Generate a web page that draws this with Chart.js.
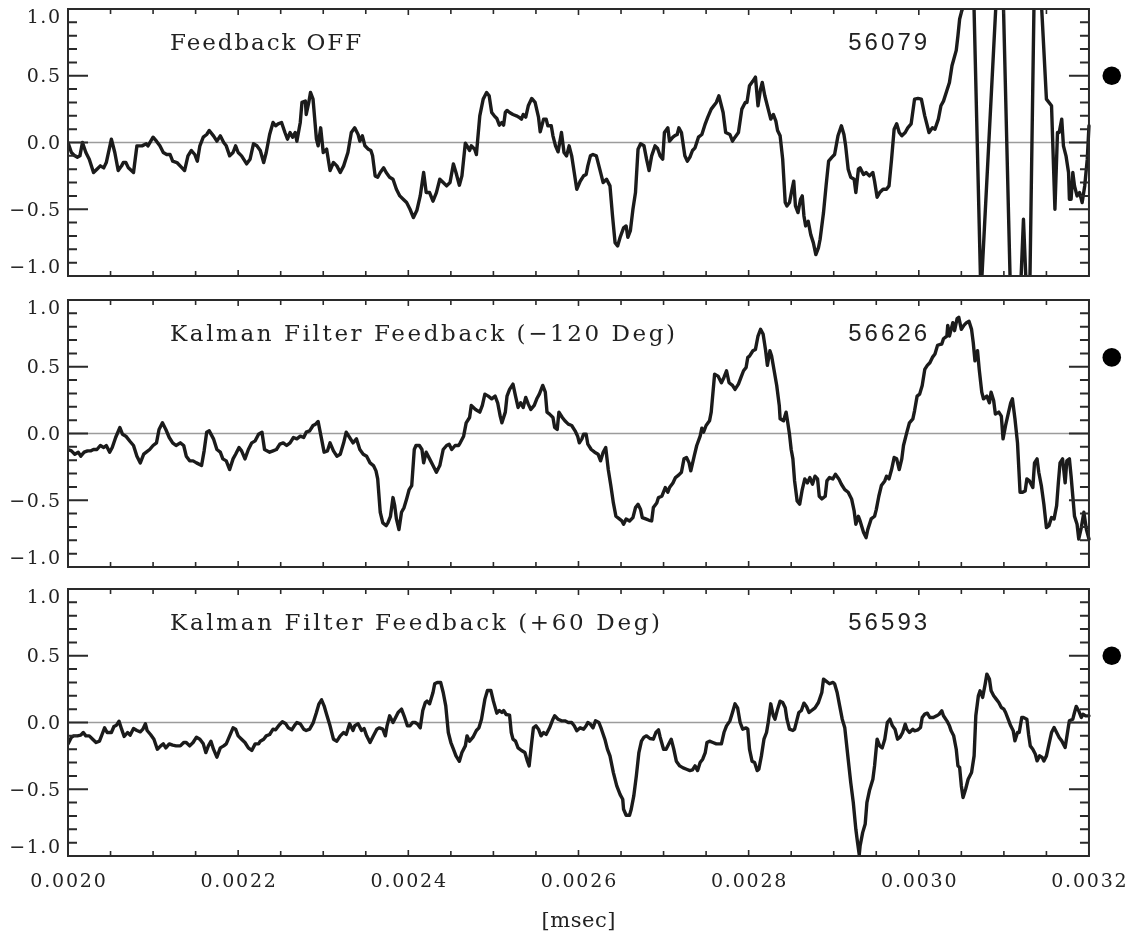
<!DOCTYPE html>
<html><head><meta charset="utf-8">
<script src="https://cdn.jsdelivr.net/npm/chart.js@4.4.1/dist/chart.umd.min.js"></script>
<style>
html,body{margin:0;padding:0;background:#fff;}
#wrap{position:relative;width:1128px;height:931px;overflow:hidden;background:#fff;}
canvas{position:absolute;left:0;top:0;}
</style></head><body>
<div id="wrap">
<canvas id="c1" width="1128" height="931"></canvas>
<canvas id="c2" width="1128" height="931"></canvas>
<canvas id="c3" width="1128" height="931"></canvas>
</div>
<script>
// ---------------- DATA ----------------
// time axis in msec (data stored in microseconds, i.e. units of 0.001 msec)
const xTickValues = [0.0020, 0.0022, 0.0024, 0.0026, 0.0028, 0.0030, 0.0032];
const xTickLabels = ['0.0020', '0.0022', '0.0024', '0.0026', '0.0028', '0.0030', '0.0032'];
const yTickValues = [-1.0, -0.5, 0.0, 0.5, 1.0];
const yTickLabels = ['\u22121.0', '\u22120.5', '0.0', '0.5', '1.0'];
const xAxisTitle = '[msec]';
const panelTitles = ['Feedback OFF', 'Kalman Filter Feedback (\u2212120 Deg)', 'Kalman Filter Feedback (+60 Deg)'];
const shotNumbers = ['56079', '56626', '56593'];
const markerValues = [0.5, 0.57, 0.5];
const markerTime = 3.2268; // microseconds

// [time (µs), signal]
const feedbackOff = [
[2.000,0],[2.004,-0.075],[2.008,-0.10],[2.011,-0.11],[2.014,-0.10],[2.017,0],[2.021,-0.075],[2.025,-0.125],[2.030,-0.225],[2.034,-0.20],[2.038,-0.175],[2.042,-0.19],[2.045,-0.15],[2.051,0.025],[2.055,-0.075],[2.059,-0.21],[2.063,-0.175],[2.065,-0.15],[2.068,-0.15],[2.071,-0.19],[2.077,-0.225],[2.081,-0.025],[2.087,-0.025],[2.092,-0.01],[2.094,-0.025],[2.100,0.04],[2.104,0.01],[2.108,-0.025],[2.112,-0.075],[2.116,-0.09],[2.120,-0.09],[2.123,-0.14],[2.128,-0.15],[2.134,-0.19],[2.137,-0.21],[2.141,-0.10],[2.145,-0.06],[2.149,-0.09],[2.152,-0.14],[2.155,-0.025],[2.159,0.04],[2.163,0.06],[2.166,0.09],[2.171,0.05],[2.175,0.01],[2.179,0.05],[2.183,0],[2.186,-0.025],[2.190,-0.10],[2.194,-0.075],[2.197,-0.025],[2.200,-0.075],[2.204,-0.10],[2.210,-0.16],[2.214,-0.125],[2.218,-0.01],[2.222,-0.025],[2.226,-0.06],[2.230,-0.15],[2.233,-0.075],[2.237,0.06],[2.241,0.15],[2.244,0.125],[2.247,0.14],[2.251,0.15],[2.255,0.075],[2.258,0.025],[2.261,0.075],[2.264,0.04],[2.267,0.075],[2.269,0.01],[2.273,0.15],[2.275,0.30],[2.279,0.31],[2.280,0.21],[2.283,0.30],[2.285,0.375],[2.288,0.325],[2.292,0.025],[2.294,-0.025],[2.297,0.11],[2.300,-0.075],[2.304,-0.05],[2.308,-0.21],[2.312,-0.15],[2.316,-0.175],[2.320,-0.225],[2.324,-0.175],[2.329,-0.075],[2.333,0.075],[2.337,0.11],[2.341,0.06],[2.343,0.01],[2.346,0.05],[2.349,-0.025],[2.353,-0.05],[2.356,-0.06],
[2.358,-0.10],[2.361,-0.25],[2.364,-0.26],[2.367,-0.225],[2.371,-0.19],[2.374,-0.225],[2.378,-0.26],[2.382,-0.275],[2.386,-0.35],[2.390,-0.40],[2.394,-0.425],[2.398,-0.45],[2.402,-0.50],[2.406,-0.5625],[2.410,-0.51],[2.414,-0.40],[2.418,-0.225],[2.421,-0.375],[2.425,-0.375],[2.429,-0.44],[2.433,-0.375],[2.437,-0.275],[2.441,-0.30],[2.445,-0.325],[2.449,-0.30],[2.453,-0.16],[2.456,-0.225],[2.460,-0.32],[2.463,-0.25],[2.467,-0.005],[2.469,-0.025],[2.472,-0.06],[2.474,-0.025],[2.478,-0.05],[2.480,-0.09],[2.484,0.20],[2.488,0.325],[2.492,0.375],[2.495,0.35],[2.498,0.225],[2.501,0.20],[2.504,0.18],[2.507,0.13],[2.510,0.15],[2.512,0.13],[2.514,0.225],[2.516,0.24],[2.519,0.225],[2.523,0.21],[2.527,0.20],[2.530,0.19],[2.533,0.175],[2.535,0.21],[2.538,0.19],[2.541,0.275],[2.545,0.33],[2.549,0.30],[2.553,0.19],[2.555,0.08],[2.559,0.175],[2.562,0.175],[2.564,0.125],[2.568,0.125],[2.570,0.05],[2.573,-0.025],[2.576,-0.07],[2.580,0.075],[2.583,-0.075],[2.586,-0.10],[2.589,-0.025],[2.592,-0.10],[2.595,-0.225],[2.598,-0.35],[2.602,-0.29],[2.606,-0.25],[2.609,-0.24],[2.611,-0.175],[2.614,-0.10],[2.617,-0.09],[2.621,-0.10],[2.625,-0.20],[2.629,-0.30],[2.633,-0.275],[2.637,-0.325],[2.640,-0.55],[2.643,-0.75],[2.646,-0.775],[2.649,-0.71],[2.653,-0.64],[2.656,-0.625],[2.658,-0.71],[2.661,-0.66],[2.664,-0.50],[2.667,-0.375],[2.670,-0.05],[2.673,-0.01],[2.677,-0.025],[2.680,-0.125],[2.683,-0.21],[2.686,-0.10],[2.690,-0.025],[2.693,-0.045],[2.696,-0.10],[2.699,-0.125],[2.701,0.075],[2.705,0.11],[2.707,0.01],[2.711,0.04],[2.713,0.05],[2.716,0.06],[2.718,0.11],[2.721,0.075],[2.725,-0.10],[2.728,-0.14],[2.731,-0.11],[2.734,-0.06],[2.737,-0.04],[2.741,0.04],[2.745,0.06],[2.749,0.14],[2.752,0.19],[2.756,0.25],[2.762,0.30],[2.765,0.35],[2.770,0.225],[2.773,0.075],[2.778,0.06],[2.781,0.01],[2.784,0.04],[2.788,0.075],[2.792,0.25],[2.796,0.30],[2.798,0.30],
[2.801,0.425],[2.805,0.46],[2.808,0.49],[2.811,0.275],[2.814,0.40],[2.816,0.45],[2.819,0.35],[2.823,0.25],[2.826,0.175],[2.829,0.21],[2.832,0.16],[2.834,0.09],[2.837,0.05],[2.840,-0.125],[2.843,-0.45],[2.845,-0.475],[2.848,-0.45],[2.851,-0.35],[2.853,-0.29],[2.855,-0.475],[2.858,-0.525],[2.861,-0.425],[2.863,-0.40],[2.865,-0.55],[2.867,-0.625],[2.870,-0.59],[2.873,-0.69],[2.876,-0.75],[2.879,-0.84],[2.882,-0.79],[2.884,-0.725],[2.888,-0.525],[2.891,-0.325],[2.894,-0.14],[2.898,-0.11],[2.901,-0.09],[2.905,0.05],[2.909,0.125],[2.912,0.06],[2.914,-0.025],[2.917,-0.20],[2.920,-0.26],[2.924,-0.275],[2.926,-0.375],[2.929,-0.20],[2.931,-0.19],[2.935,-0.24],[2.938,-0.225],[2.942,-0.25],[2.946,-0.225],[2.948,-0.29],[2.951,-0.41],[2.954,-0.375],[2.958,-0.35],[2.962,-0.35],[2.965,-0.325],[2.968,-0.125],[2.971,0.10],[2.974,0.14],[2.977,0.075],[2.980,0.05],[2.984,0.075],[2.987,0.11],[2.991,0.14],[2.995,0.325],[2.999,0.33],[3.003,0.325],[3.007,0.20],[3.012,0.075],[3.016,0.11],[3.019,0.10],[3.023,0.175],[3.026,0.275],[3.029,0.31],[3.033,0.39],[3.036,0.45],[3.039,0.575],[3.044,0.69],[3.046,0.80],[3.048,0.925],[3.050,0.975],[3.064,1.25],[3.073,-1.15],[3.092,1.2],[3.099,1.15],[3.108,-1.2],[3.119,-1.2],[3.123,-0.575],[3.127,-1.2],[3.130,-1.3],[3.136,1.3],[3.142,1.3],[3.150,0.325],[3.156,0.275],[3.160,-0.50],[3.163,0.075],[3.165,0.075],[3.168,0.175],[3.170,-0.025],[3.173,-0.10],[3.176,-0.225],[3.177,-0.425],[3.179,-0.425],[3.181,-0.225],[3.183,-0.325],[3.186,-0.40],[3.189,-0.375],[3.192,-0.45],[3.195,-0.325],[3.198,-0.125],[3.200,0.125]
];

const kalmanMinus120 = [
[2.000,-0.12],[2.004,-0.13],[2.008,-0.155],[2.012,-0.14],[2.015,-0.17],[2.019,-0.14],[2.023,-0.13],[2.027,-0.13],[2.030,-0.12],[2.034,-0.12],[2.038,-0.09],[2.042,-0.105],[2.045,-0.09],[2.049,-0.14],[2.052,-0.105],[2.056,-0.03],[2.061,0.045],[2.064,-0.005],[2.068,-0.02],[2.073,-0.06],[2.077,-0.09],[2.081,-0.17],[2.085,-0.22],[2.089,-0.155],[2.092,-0.14],[2.096,-0.12],[2.100,-0.09],[2.104,-0.07],[2.107,0.03],[2.111,0.08],[2.115,0.03],[2.119,-0.03],[2.123,-0.07],[2.127,-0.09],[2.132,-0.07],[2.136,-0.09],[2.139,-0.17],[2.143,-0.205],[2.147,-0.205],[2.151,-0.22],[2.157,-0.24],[2.160,-0.13],[2.163,0.01],[2.166,0.02],[2.171,-0.04],[2.175,-0.12],[2.179,-0.14],[2.182,-0.19],[2.186,-0.205],[2.190,-0.27],[2.194,-0.19],[2.197,-0.155],[2.201,-0.105],[2.204,-0.13],[2.208,-0.19],[2.212,-0.12],[2.216,-0.07],[2.220,-0.055],[2.224,-0.005],[2.228,0.01],[2.231,-0.12],[2.237,-0.14],[2.241,-0.13],[2.245,-0.12],[2.249,-0.08],[2.253,-0.07],[2.257,-0.09],[2.261,-0.07],[2.265,-0.03],[2.269,-0.04],[2.273,-0.02],[2.277,-0.03],[2.280,0.01],[2.284,0.02],[2.288,0.06],[2.291,0.07],[2.294,0.09],[2.298,-0.04],[2.301,-0.14],[2.305,-0.13],[2.308,-0.07],[2.312,-0.13],[2.316,-0.17],[2.320,-0.155],[2.324,-0.07],[2.327,0.01],[2.331,-0.03],[2.335,-0.07],[2.339,-0.04],[2.343,-0.12],[2.347,-0.155],[2.351,-0.17],[2.355,-0.22],[2.359,-0.24],[2.362,-0.28],
[2.364,-0.34],[2.367,-0.59],[2.370,-0.67],[2.374,-0.69],[2.376,-0.67],[2.379,-0.62],[2.382,-0.48],[2.384,-0.54],[2.386,-0.64],[2.389,-0.72],[2.392,-0.59],[2.395,-0.555],[2.398,-0.49],[2.401,-0.42],[2.404,-0.39],[2.407,-0.12],[2.409,-0.09],[2.413,-0.09],[2.416,-0.12],[2.418,-0.22],[2.421,-0.14],[2.425,-0.19],[2.429,-0.24],[2.433,-0.29],[2.437,-0.24],[2.441,-0.12],[2.445,-0.09],[2.448,-0.08],[2.451,-0.12],[2.455,-0.09],[2.459,-0.09],[2.461,-0.07],[2.465,-0.02],[2.468,0.08],[2.472,0.12],[2.474,0.21],[2.479,0.18],[2.484,0.16],[2.487,0.21],[2.490,0.295],[2.494,0.28],[2.498,0.26],[2.502,0.28],[2.505,0.23],[2.508,0.13],[2.510,0.08],[2.514,0.16],[2.516,0.28],[2.519,0.33],[2.523,0.37],[2.526,0.28],[2.529,0.195],[2.532,0.23],[2.535,0.195],[2.538,0.27],[2.541,0.22],[2.544,0.18],[2.548,0.21],[2.551,0.26],[2.554,0.295],[2.558,0.36],[2.561,0.31],[2.563,0.16],[2.566,0.145],[2.570,0.12],[2.572,0.045],[2.575,0.03],[2.577,0.16],[2.581,0.12],[2.584,0.095],[2.588,0.07],[2.592,0.06],[2.596,0.02],[2.599,-0.02],[2.601,-0.07],[2.604,-0.04],[2.606,-0.005],[2.609,-0.005],[2.611,-0.08],[2.615,-0.12],[2.619,-0.14],[2.623,-0.155],[2.626,-0.205],[2.629,-0.14],[2.632,-0.105],[2.635,-0.27],[2.638,-0.39],[2.641,-0.52],[2.644,-0.62],[2.648,-0.64],[2.651,-0.655],[2.653,-0.68],[2.656,-0.64],[2.660,-0.655],[2.664,-0.63],[2.667,-0.555],[2.670,-0.53],[2.673,-0.57],[2.675,-0.63],[2.679,-0.64],[2.683,-0.65],[2.686,-0.655],[2.688,-0.555],[2.692,-0.52],[2.694,-0.48],[2.698,-0.47],[2.702,-0.405],[2.705,-0.44],[2.707,-0.405],[2.711,-0.37],[2.714,-0.33],[2.718,-0.31],[2.721,-0.29],[2.724,-0.19],[2.727,-0.18],[2.730,-0.22],[2.732,-0.28],[2.736,-0.17],[2.739,-0.09],[2.743,-0.02],[2.745,0.04],[2.747,0.01],[2.750,0.06],[2.754,0.095],[2.756,0.16],[2.760,0.445],[2.764,0.43],[2.768,0.38],[2.771,0.42],[2.774,0.47],[2.777,0.38],[2.781,0.36],[2.784,0.33],[2.788,0.37],[2.791,0.42],[2.794,0.47],[2.797,0.495],[2.799,0.57],
[2.801,0.58],[2.805,0.62],[2.808,0.63],[2.811,0.73],[2.814,0.78],[2.817,0.745],[2.820,0.62],[2.822,0.51],[2.825,0.62],[2.827,0.58],[2.830,0.47],[2.833,0.36],[2.836,0.21],[2.837,0.11],[2.841,0.095],[2.844,0.16],[2.846,0.08],[2.848,-0.005],[2.850,-0.12],[2.852,-0.19],[2.854,-0.355],[2.857,-0.505],[2.860,-0.53],[2.863,-0.42],[2.866,-0.34],[2.869,-0.37],[2.872,-0.33],[2.875,-0.38],[2.878,-0.32],[2.881,-0.34],[2.883,-0.47],[2.886,-0.49],[2.890,-0.47],[2.892,-0.355],[2.895,-0.33],[2.899,-0.34],[2.902,-0.305],[2.906,-0.34],[2.909,-0.38],[2.913,-0.42],[2.917,-0.44],[2.921,-0.49],[2.924,-0.58],[2.926,-0.68],[2.929,-0.62],[2.931,-0.655],[2.935,-0.74],[2.938,-0.78],[2.940,-0.72],[2.944,-0.64],[2.948,-0.62],[2.950,-0.57],[2.953,-0.47],[2.956,-0.39],[2.960,-0.355],[2.962,-0.32],[2.965,-0.34],[2.968,-0.27],[2.971,-0.18],[2.974,-0.19],[2.977,-0.27],[2.980,-0.19],[2.982,-0.09],[2.986,0.01],[2.989,0.08],[2.993,0.11],[2.995,0.17],[2.998,0.28],[3.001,0.295],[3.004,0.36],[3.007,0.48],[3.010,0.51],[3.013,0.53],[3.016,0.57],[3.019,0.595],[3.022,0.66],[3.024,0.665],[3.027,0.67],[3.029,0.71],[3.033,0.73],[3.034,0.81],[3.036,0.73],[3.040,0.83],[3.042,0.77],[3.045,0.86],[3.047,0.87],[3.050,0.78],[3.053,0.81],[3.056,0.83],[3.059,0.84],[3.062,0.78],[3.064,0.68],[3.066,0.545],[3.069,0.62],[3.071,0.48],[3.074,0.31],[3.076,0.26],[3.080,0.28],[3.083,0.23],[3.085,0.31],[3.088,0.245],[3.090,0.145],[3.094,0.16],[3.097,0.13],[3.099,-0.04],[3.102,0.06],[3.105,0.145],[3.108,0.23],[3.110,0.26],[3.113,0.11],[3.116,-0.07],[3.119,-0.44],[3.122,-0.44],[3.125,-0.43],[3.127,-0.34],[3.130,-0.355],[3.134,-0.405],[3.136,-0.22],[3.139,-0.19],[3.141,-0.29],[3.144,-0.39],[3.147,-0.53],[3.150,-0.705],[3.153,-0.69],[3.156,-0.63],[3.159,-0.64],[3.162,-0.54],[3.164,-0.37],[3.166,-0.22],[3.169,-0.19],[3.172,-0.37],[3.174,-0.205],[3.177,-0.19],[3.179,-0.32],[3.181,-0.47],[3.183,-0.62],[3.186,-0.68],[3.188,-0.79],[3.191,-0.705],[3.194,-0.59],[3.197,-0.72],[3.200,-0.79]
];

const kalmanPlus60 = [
[2.000,-0.16],[2.004,-0.11],[2.007,-0.10],[2.011,-0.10],[2.015,-0.095],[2.018,-0.075],[2.021,-0.10],[2.025,-0.10],[2.029,-0.125],[2.033,-0.15],[2.037,-0.14],[2.040,-0.09],[2.043,-0.04],[2.046,-0.075],[2.051,-0.075],[2.054,-0.03],[2.057,-0.02],[2.060,0.01],[2.063,-0.05],[2.066,-0.105],[2.070,-0.075],[2.073,-0.095],[2.077,-0.045],[2.081,-0.06],[2.085,-0.07],[2.088,-0.05],[2.091,-0.01],[2.093,-0.06],[2.097,-0.09],[2.101,-0.125],[2.105,-0.20],[2.109,-0.175],[2.112,-0.16],[2.115,-0.19],[2.119,-0.16],[2.123,-0.17],[2.127,-0.175],[2.132,-0.175],[2.136,-0.15],[2.139,-0.15],[2.143,-0.175],[2.147,-0.15],[2.151,-0.11],[2.155,-0.125],[2.159,-0.16],[2.162,-0.225],[2.165,-0.175],[2.168,-0.14],[2.171,-0.20],[2.175,-0.26],[2.179,-0.19],[2.183,-0.175],[2.186,-0.16],[2.190,-0.10],[2.194,-0.04],[2.197,-0.05],[2.200,-0.10],[2.204,-0.125],[2.208,-0.15],[2.212,-0.19],[2.216,-0.21],[2.220,-0.16],[2.224,-0.16],[2.226,-0.14],[2.230,-0.125],[2.233,-0.10],[2.237,-0.09],[2.241,-0.05],[2.244,-0.055],[2.248,-0.02],[2.252,0.005],[2.256,-0.01],[2.259,-0.04],[2.263,-0.055],[2.266,-0.025],[2.269,0.0],[2.273,-0.01],[2.277,-0.05],[2.280,-0.06],[2.284,-0.05],[2.288,-0.005],[2.292,0.075],[2.295,0.14],[2.298,0.17],[2.301,0.125],[2.304,0.06],[2.308,-0.025],[2.312,-0.125],[2.316,-0.14],[2.320,-0.10],[2.324,-0.075],[2.327,-0.09],[2.331,-0.01],[2.335,-0.06],[2.337,-0.025],[2.341,-0.01],[2.345,-0.06],[2.348,-0.045],[2.351,-0.10],[2.355,-0.15],
[2.359,-0.10],[2.363,-0.05],[2.366,-0.04],[2.370,-0.05],[2.373,-0.10],[2.375,-0.025],[2.378,0.05],[2.382,0.0],[2.384,0.025],[2.388,0.075],[2.392,0.10],[2.395,0.05],[2.399,-0.025],[2.402,-0.025],[2.405,0.0],[2.408,0.0],[2.411,-0.0125],[2.414,-0.04],[2.417,0.09],[2.420,0.15],[2.422,0.16],[2.425,0.14],[2.429,0.225],[2.431,0.29],[2.434,0.30],[2.438,0.30],[2.441,0.225],[2.444,0.125],[2.447,-0.075],[2.450,-0.15],[2.453,-0.20],[2.456,-0.25],[2.460,-0.29],[2.463,-0.225],[2.467,-0.175],[2.469,-0.10],[2.472,-0.14],[2.476,-0.11],[2.480,-0.06],[2.483,-0.04],[2.486,0.025],[2.490,0.175],[2.493,0.24],[2.497,0.24],[2.500,0.16],[2.504,0.07],[2.507,0.09],[2.510,0.075],[2.512,0.09],[2.515,0.06],[2.519,0.055],[2.521,-0.075],[2.523,-0.125],[2.526,-0.14],[2.529,-0.19],[2.533,-0.21],[2.537,-0.225],[2.540,-0.29],[2.542,-0.325],[2.545,-0.15],[2.547,-0.04],[2.550,-0.025],[2.553,-0.05],[2.556,-0.10],[2.559,-0.075],[2.562,-0.09],[2.566,-0.04],[2.570,0.025],[2.572,0.05],[2.576,0.025],[2.580,0.0125],[2.584,0.0125],[2.588,0.0],[2.592,0.0],[2.595,-0.025],[2.598,-0.0625],[2.602,-0.04],[2.606,-0.05],[2.609,-0.025],[2.611,0.0],[2.614,-0.0125],[2.617,-0.04],[2.620,0.0125],[2.624,0.0],[2.627,-0.05],[2.631,-0.125],[2.634,-0.20],[2.637,-0.25],[2.641,-0.375],[2.645,-0.475],[2.649,-0.54],[2.652,-0.575],[2.653,-0.65],[2.656,-0.695],[2.660,-0.695],[2.662,-0.65],[2.665,-0.55],[2.668,-0.40],[2.671,-0.225],[2.674,-0.14],[2.677,-0.11],[2.680,-0.10],[2.684,-0.12],[2.688,-0.125],[2.691,-0.075],[2.694,-0.055],[2.696,-0.11],[2.700,-0.20],[2.703,-0.20],[2.707,-0.15],[2.709,-0.125],[2.712,-0.20],[2.715,-0.29],[2.719,-0.325],[2.723,-0.34],[2.727,-0.35],[2.731,-0.36],[2.734,-0.355],[2.737,-0.325],[2.740,-0.36],[2.743,-0.30],[2.746,-0.275],[2.749,-0.225],[2.751,-0.15],[2.754,-0.14],[2.758,-0.15],[2.762,-0.16],[2.768,-0.16],[2.771,-0.075],[2.774,-0.025],[2.778,0.0125],[2.781,0.075],[2.784,0.14],[2.787,0.11],[2.790,0.0],[2.793,-0.05],
[2.797,-0.04],[2.799,-0.05],[2.801,-0.20],[2.804,-0.29],[2.807,-0.30],[2.810,-0.36],[2.812,-0.35],[2.815,-0.25],[2.818,-0.125],[2.821,-0.075],[2.823,0.0],[2.826,0.14],[2.829,0.05],[2.831,0.025],[2.834,0.10],[2.837,0.16],[2.840,0.15],[2.843,0.11],[2.845,0.025],[2.848,-0.05],[2.852,-0.06],[2.854,-0.05],[2.857,0.025],[2.859,0.075],[2.862,0.09],[2.865,0.145],[2.868,0.12],[2.871,0.075],[2.874,0.09],[2.878,0.11],[2.882,0.15],[2.886,0.225],[2.888,0.325],[2.891,0.31],[2.895,0.29],[2.899,0.30],[2.901,0.29],[2.904,0.225],[2.907,0.125],[2.910,0.025],[2.913,-0.04],[2.917,-0.275],[2.920,-0.45],[2.923,-0.60],[2.926,-0.80],[2.928,-0.90],[2.930,-0.99],[2.931,-0.925],[2.934,-0.825],[2.937,-0.76],[2.939,-0.60],[2.942,-0.51],[2.946,-0.425],[2.948,-0.325],[2.951,-0.125],[2.954,-0.175],[2.957,-0.19],[2.960,-0.125],[2.963,0.0],[2.966,0.025],[2.969,-0.025],[2.972,-0.05],[2.975,-0.125],[2.978,-0.11],[2.981,-0.075],[2.984,-0.0125],[2.986,-0.05],[2.989,-0.075],[2.993,-0.05],[2.995,-0.0625],[2.999,-0.055],[3.002,-0.0375],[3.004,0.0375],[3.007,0.0625],[3.010,0.07],[3.013,0.0375],[3.017,0.0375],[3.021,0.05],[3.024,0.0625],[3.027,0.0875],[3.029,0.05],[3.033,0.0125],[3.036,-0.025],[3.038,-0.0625],[3.041,-0.10],[3.044,-0.20],[3.046,-0.325],[3.048,-0.3375],[3.050,-0.475],[3.052,-0.5625],[3.055,-0.50],[3.058,-0.425],[3.062,-0.375],[3.065,-0.25],[3.067,0.05],[3.070,0.20],[3.072,0.2375],[3.075,0.1875],[3.078,0.2875],[3.080,0.3625],[3.083,0.325],[3.085,0.2375],[3.088,0.20],[3.091,0.175],[3.094,0.15],[3.097,0.1125],[3.100,0.10],[3.102,0.075],[3.105,0.025],[3.108,-0.025],[3.111,-0.0625],[3.113,-0.1375],[3.116,-0.075],[3.118,-0.075],[3.121,0.0375],[3.123,0.0375],[3.127,0.025],[3.129,-0.0875],[3.131,-0.175],[3.134,-0.20],[3.137,-0.2375],[3.139,-0.2875],[3.142,-0.25],[3.145,-0.2625],[3.147,-0.2875],[3.150,-0.25],[3.153,-0.1625],[3.156,-0.075],[3.159,-0.0375],[3.162,-0.075],[3.165,-0.1125],[3.168,-0.1375],[3.172,-0.1875],[3.176,-0.025],[3.177,0.0125],[3.181,0.025],[3.183,0.075],[3.185,0.12],[3.188,0.0875],[3.191,0.0375],[3.193,0.0625],[3.196,0.05],[3.200,0.05]
];

// ---------------- LAYOUT / STYLE ----------------
const X_START = 0.0020, X_END = 0.0032, X_SCALE_MAX = 0.00324, X_MINOR = 0.00005;
const Y_MIN = -1, Y_MAX = 1;
const INK = '#1b1b1b';
const TEXT_COLOR = '#222';
const SERIF = '"DejaVu Serif", "Liberation Serif", serif';
const SANS = '"Liberation Sans", Arial, sans-serif';

function setSpacing(ctx, px) {
  if ('letterSpacing' in ctx) { ctx.letterSpacing = px + 'px'; return px; }
  return 0;
}
function drawText(ctx, text, x, y, font, align, spacing, baseline) {
  ctx.font = font;
  ctx.textBaseline = baseline || 'alphabetic';
  const sp = setSpacing(ctx, spacing || 0);
  const w = ctx.measureText(text).width - sp;
  let left = x;
  if (align === 'right') left = x - w;
  else if (align === 'center') left = x - w / 2;
  ctx.textAlign = 'left';
  ctx.fillText(text, left, y);
  setSpacing(ctx, 0);
}
function fitSpacing(ctx, text, font, target) {
  ctx.font = font; setSpacing(ctx, 0);
  const w = ctx.measureText(text).width;
  return Math.max(0, (target - w) / (text.length - 1));
}

const decorPlugin = {
  id: 'panelDecor',
  afterDatasetsDraw(chart, args, o) {
    const ctx = chart.ctx, xs = chart.scales.x, ys = chart.scales.y;
    const L = xs.getPixelForValue(X_START), R = xs.getPixelForValue(X_END);
    const T = ys.getPixelForValue(Y_MAX), B = ys.getPixelForValue(Y_MIN);
    ctx.save();
    ctx.strokeStyle = '#2a2a2a';
    ctx.lineWidth = 2;
    ctx.beginPath();
    for (let i = -10; i <= 10; i++) {
      const y = ys.getPixelForValue(i / 10);
      const len = (i % 5 === 0) ? 20 : 9;
      ctx.moveTo(L, y); ctx.lineTo(L + len, y);
      ctx.moveTo(R, y); ctx.lineTo(R - len, y);
    }
    ctx.stroke();
    ctx.lineWidth = 1.6;
    ctx.beginPath();
    const nx = Math.round((X_END - X_START) / X_MINOR);
    for (let i = 0; i <= nx; i++) {
      const x = xs.getPixelForValue(X_START + i * X_MINOR);
      const len = (i % 4 === 0) ? 6 : 5;
      ctx.moveTo(x, T); ctx.lineTo(x, T + len);
      ctx.moveTo(x, B); ctx.lineTo(x, B - len);
    }
    ctx.stroke();
    ctx.lineWidth = 2;
    ctx.strokeRect(L, T, R - L, B - T);

    ctx.fillStyle = TEXT_COLOR;
    const yFont = '19px ' + SERIF;
    yTickValues.forEach((v, i) => {
      let y = ys.getPixelForValue(v) + 1.5;
      if (v === Y_MAX) y = T + 9.5;
      if (v === Y_MIN) y = B - 7.5;
      drawText(ctx, yTickLabels[i], L - 8, y, yFont, 'right', 1.5, 'middle');
    });
    const tFont = '23px ' + SERIF;
    const sp = fitSpacing(ctx, o.title, tFont, o.titleWidth);
    drawText(ctx, o.title, xs.getPixelForValue(o.titleX), T + 41, tFont, 'left', sp);
    const nFont = '24px ' + SANS;
    const sp2 = fitSpacing(ctx, o.shot, nFont, 79);
    drawText(ctx, o.shot, xs.getPixelForValue(o.shotX), T + 41, nFont, 'left', sp2);
    if (o.xLabels) {
      const xFont = '19px ' + SERIF;
      xTickValues.forEach((v, i) => {
        drawText(ctx, xTickLabels[i], xs.getPixelForValue(v), B + 31, xFont, 'center', 1.8);
      });
      drawText(ctx, xAxisTitle, (L + R) / 2, B + 71, '21px ' + SERIF, 'center', 0.5);
    }
    ctx.restore();
  }
};

function makePanel(id, series, idx, top, bottom, withXLabels, titleWidth) {
  const pts = series.map(p => ({ x: p[0] / 1000, y: p[1] }));
  new Chart(document.getElementById(id), {
    type: 'line',
    data: {
      datasets: [
        { data: pts, borderColor: INK, borderWidth: 3.4, pointRadius: 0, pointHitRadius: 0,
          tension: 0, clip: 0, borderJoinStyle: 'round', borderCapStyle: 'round' },
        { data: [{ x: X_START, y: 0 }, { x: X_END, y: 0 }], borderColor: '#9c9c9c', borderWidth: 1.5,
          pointRadius: 0, pointHitRadius: 0, clip: 0 },
        { data: [{ x: markerTime / 1000, y: markerValues[idx] }], showLine: false, pointRadius: 9.3,
          pointBackgroundColor: '#000', pointBorderWidth: 0, pointBorderColor: '#000', clip: false }
      ]
    },
    options: {
      responsive: false, maintainAspectRatio: false, animation: false, devicePixelRatio: 1, events: [],
      layout: { autoPadding: false, padding: { left: 68, right: 5, top: top, bottom: 931 - bottom } },
      scales: {
        x: { type: 'linear', min: X_START, max: X_SCALE_MAX, display: false },
        y: { type: 'linear', min: Y_MIN, max: Y_MAX, display: false }
      },
      plugins: {
        legend: { display: false }, tooltip: { enabled: false },
        panelDecor: { title: panelTitles[idx], shot: shotNumbers[idx], titleX: 0.00212, shotX: 0.002917,
          titleWidth: titleWidth, xLabels: withXLabels }
      }
    },
    plugins: [decorPlugin]
  });
}

makePanel('c1', feedbackOff, 0, 9, 276, false, 191);
makePanel('c2', kalmanMinus120, 1, 300, 567, false, 505);
makePanel('c3', kalmanPlus60, 2, 589, 856, true, 490);
</script>
</body></html>
